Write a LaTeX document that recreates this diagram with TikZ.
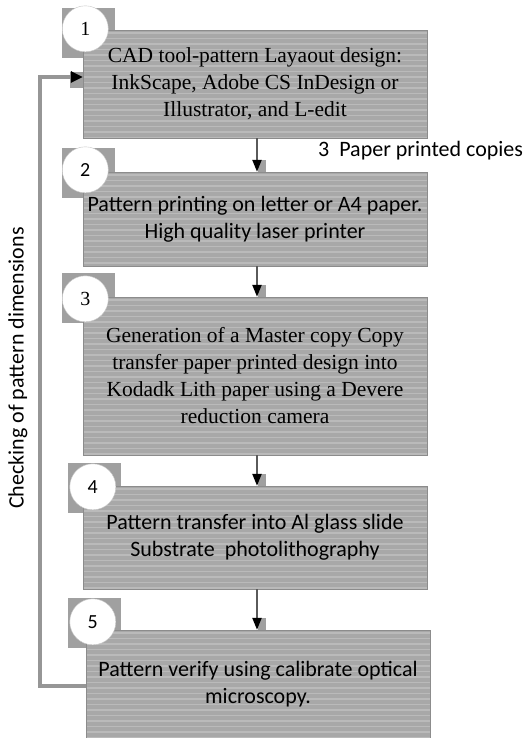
\documentclass[tikz,border=0pt]{standalone}
\usepackage{fontspec}
\setmainfont{Liberation Serif}
\newfontfamily\boxsans{Carlito}
\usetikzlibrary{positioning,arrows.meta,backgrounds}
\definecolor{boxgray}{RGB}{168,168,168}
\definecolor{stripegray}{RGB}{186,186,186}
\definecolor{boxline}{RGB}{140,140,140}
\definecolor{tabgray}{RGB}{160,160,160}
\definecolor{arrowgray}{RGB}{90,90,90}
\definecolor{loopgray}{RGB}{150,150,150}

\begin{document}
\begin{tikzpicture}[x=1pt, y=1pt,
  stepbox/.style={draw=boxline, fill=boxgray, minimum width=344pt, align=center, inner sep=0pt,
    font=\fontsize{21.5}{27}\selectfont,
    path picture={\foreach \k in {3,8.5,...,170}
      \draw[stripegray, line width=1.5pt] ([yshift=-\k pt]path picture bounding box.north west) -- ([yshift=-\k pt]path picture bounding box.north east);}},
  sansbox/.style={stepbox, font=\boxsans\fontsize{22}{27}\selectfont},
  tab/.style={fill=tabgray, minimum width=53pt, minimum height=50pt, inner sep=0pt},
  badge/.style={circle, draw=gray!45, fill=white, minimum size=46pt, inner sep=0pt, font=\fontsize{20}{20}\selectfont},
  sansbadge/.style={badge, font=\boxsans\fontsize{20}{20}\selectfont},
  flow/.style={draw=arrowgray, line width=2.2pt, -{Triangle[length=12pt, width=9pt, color=black]}},
  loopline/.style={draw=loopgray, line width=4pt, line join=miter, -{Triangle[length=12pt, width=11pt, color=black]}},
  note/.style={font=\boxsans\fontsize{22}{26}\selectfont, inner sep=0pt}]
  \useasboundingbox (0,0) rectangle (526,-738);
  % process steps
  \node[stepbox, minimum height=108pt] (b1) at (255,-84) {CAD tool-pattern Layaout design:\\InkScape, Adobe CS InDesign or\\Illustrator, and L-edit};
  \node[sansbox, minimum height=94pt] (b2) at (255,-219) {Pattern printing on letter or A4 paper.\\High quality laser printer};
  \node[stepbox, minimum height=158pt] (b3) at (255,-376) {Generation of a Master copy Copy\\transfer paper printed design into\\Kodadk Lith paper using a Devere\\reduction camera};
  \node[sansbox, minimum height=103pt] (b4) at (255,-537.5) {Pattern transfer into Al glass slide\\Substrate\ \ photolithography};
  \node[sansbox, minimum height=108pt] (b5) at (258,-684) {Pattern verify using calibrate optical\\microscopy.};
  % tabs behind the step numbers
  \begin{scope}[on background layer]
    \node[tab] (t1) at ([shift={(5.5,-3)}]b1.north west) {};
    \node[tab] (t2) at ([shift={(5.5,-1)}]b2.north west) {};
    \node[tab] (t3) at ([shift={(5.5,-1)}]b3.north west) {};
    \node[tab] (t4) at ([shift={(12,-2)}]b4.north west) {};
    \node[tab] (t5) at ([shift={(9,7)}]b5.north west) {};
  \end{scope}
  \node[badge] (n1) at ([shift={(-3,4)}]t1.center) {1};
  \node[sansbadge] (n2) at ([shift={(-3,3)}]t2.center) {2};
  \node[badge] (n3) at ([shift={(-3,-1)}]t3.center) {3};
  \node[sansbadge] (n4) at ([shift={(-2,1)}]t4.center) {4};
  \node[sansbadge] (n5) at ([shift={(-2,1)}]t5.center) {5};
  % labels
  \node[note, anchor=base west] (copies) at (318,-157) {3\ \ Paper printed copies};
  \node[note, rotate=90] (chk) at (18,-368) {Checking of pattern dimensions};
  % connectors
  \coordinate (ax) at (257,0);
  \coordinate (lx) at (40,0);
  \fill[tabgray] ([xshift=1]b2.north -| ax) rectangle ++(8,12);
  \fill[tabgray] ([xshift=1]b3.north -| ax) rectangle ++(8,12);
  \fill[tabgray] ([xshift=1]b4.north -| ax) rectangle ++(8,12);
  \fill[tabgray] ([xshift=1]b5.north -| ax) rectangle ++(8,12);
  \fill[tabgray] ([shift={(-13,12)}]b1.west) rectangle ([yshift=-4]b1.west);
  \draw[flow] (b1.south -| ax) -- (b2.north -| ax);
  \draw[flow] (b2.south -| ax) -- (b3.north -| ax);
  \draw[flow] (b3.south -| ax) -- (b4.north -| ax);
  \draw[flow] (b4.south -| ax) -- (b5.north -| ax);
  \draw[loopline] ([yshift=-2]b5.west) -- ([yshift=-2]b5.west -| lx) |- ([yshift=7]b1.west);
\end{tikzpicture}
\end{document}
